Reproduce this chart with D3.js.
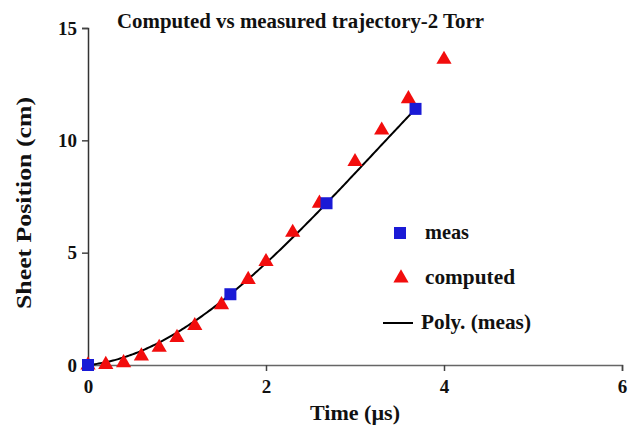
<!DOCTYPE html>
<html>
<head>
<meta charset="utf-8">
<script src="https://cdn.jsdelivr.net/npm/d3@7"></script>
<style>
  body { margin: 0; background: #fff; }
  text { font-family: "Liberation Serif", "Times New Roman", serif; font-weight: bold; fill: #111; }
</style>
</head>
<body>
<div id="chart"></div>
<script>
// data
var measTime = [0, 1.6, 2.68, 3.68];
var measPos = [0, 3.15, 7.2, 11.4];
var compTime = [0, 0.2, 0.4, 0.6, 0.8, 1.0, 1.2, 1.5, 1.8, 2.0, 2.3, 2.6, 3.0, 3.3, 3.6, 4.0];
var compPos = [0, 0.02, 0.1, 0.4, 0.78, 1.22, 1.75, 2.68, 3.8, 4.6, 5.9, 7.2, 9.05, 10.45, 11.85, 13.6];
var xTicks = [0, 2, 4, 6];
var yTicks = [0, 5, 10, 15];

var svgWidth = 630;
var svgHeight = 427;

var svg = d3.select("#chart")
    .append("svg")
    .attr("width", svgWidth)
    .attr("height", svgHeight);

var xscale = d3.scaleLinear().domain([0, 6]).range([88, 622]);
var yscale = d3.scaleLinear().domain([0, 15]).range([365, 28]);

// axes
var xAxis = svg.append("g")
    .attr("transform", "translate(0,365)")
    .call(d3.axisBottom(xscale).tickValues(xTicks).tickSize(6).tickPadding(9).tickFormat(d3.format("d")));
xAxis.select(".domain").attr("stroke", "#666").attr("stroke-width", 1.5);
xAxis.selectAll(".tick line").attr("stroke", "#444").attr("stroke-width", 1.5);
xAxis.selectAll(".tick text").style("font-size", "19px").attr("font-family", null);

var yAxis = svg.append("g")
    .attr("transform", "translate(88,0)")
    .call(d3.axisLeft(yscale).tickValues(yTicks).tickSize(6).tickPadding(5).tickFormat(d3.format("d")));
yAxis.select(".domain").attr("stroke", "#333").attr("stroke-width", 1.5);
yAxis.selectAll(".tick line").attr("stroke", "#444").attr("stroke-width", 1.5);
yAxis.selectAll(".tick text").style("font-size", "19px").attr("font-family", null);

// polynomial trendline through the measured points (least squares)
function polyFit(xs, ys, order) {
    var n = order + 1;
    var A = [];
    for (var i = 0; i < n; i++) {
        A.push([]);
        for (var j = 0; j < n; j++) {
            A[i].push(d3.sum(xs, x => Math.pow(x, i + j)));
        }
        A[i].push(d3.sum(xs, (x, k) => Math.pow(x, i) * ys[k]));
    }
    for (var c = 0; c < n; c++) {
        for (var r = c + 1; r < n; r++) {
            var f = A[r][c] / A[c][c];
            for (var k = c; k <= n; k++) A[r][k] -= f * A[c][k];
        }
    }
    var coef = new Array(n).fill(0);
    for (var r = n - 1; r >= 0; r--) {
        var s = A[r][n];
        for (var k = r + 1; k < n; k++) s -= A[r][k] * coef[k];
        coef[r] = s / A[r][r];
    }
    return coef;
}
var coef = polyFit(measTime, measPos, 3);
var poly = t => coef[0] + coef[1] * t + coef[2] * t * t + coef[3] * t * t * t;
var fitPts = d3.range(0, 3.681, 0.02).map(t => [t, poly(t)]);

svg.append("path")
    .datum(fitPts)
    .attr("fill", "none")
    .attr("stroke", "#000")
    .attr("stroke-width", 2)
    .attr("d", d3.line().x(d => xscale(d[0])).y(d => yscale(d[1])));

// computed triangles
var tri = d3.symbol().type(d3.symbolTriangle).size(100);
svg.selectAll(".comp")
    .data(compTime)
    .enter()
    .append("path")
    .attr("class", "comp")
    .attr("d", tri)
    .attr("transform", (d, i) => `translate(${xscale(d)},${yscale(compPos[i])})`)
    .attr("fill", "#f20d0d");

// measured squares
svg.selectAll(".meas")
    .data(measTime)
    .enter()
    .append("rect")
    .attr("class", "meas")
    .attr("x", d => xscale(d) - 6)
    .attr("y", (d, i) => yscale(measPos[i]) - 6)
    .attr("width", 12)
    .attr("height", 12)
    .attr("fill", "#1a1ad6");

// legend
svg.append("rect").attr("x", 394).attr("y", 227).attr("width", 12).attr("height", 12).attr("fill", "#1a1ad6");
svg.append("text").attr("x", 425).attr("y", 239).style("font-size", "21px")
    .attr("textLength", 44).attr("lengthAdjust", "spacingAndGlyphs").text("meas");
svg.append("path").attr("d", tri).attr("transform", "translate(401,278)").attr("fill", "#f20d0d");
svg.append("text").attr("x", 425).attr("y", 284).style("font-size", "21px")
    .attr("textLength", 90).attr("lengthAdjust", "spacingAndGlyphs").text("computed");
svg.append("line").attr("x1", 383).attr("x2", 413).attr("y1", 323).attr("y2", 323).attr("stroke", "#000").attr("stroke-width", 2);
svg.append("text").attr("x", 421).attr("y", 329).style("font-size", "21px")
    .attr("textLength", 110).attr("lengthAdjust", "spacingAndGlyphs").text("Poly. (meas)");

// titles
svg.append("text")
    .attr("x", 117)
    .attr("y", 28)
    .style("font-size", "20px")
    .attr("textLength", 367)
    .attr("lengthAdjust", "spacingAndGlyphs")
    .text("Computed vs measured trajectory-2 Torr");

svg.append("text")
    .attr("transform", "translate(31,309) rotate(-90)")
    .style("font-size", "21px")
    .attr("textLength", 212)
    .attr("lengthAdjust", "spacingAndGlyphs")
    .text("Sheet Position (cm)");

svg.append("text")
    .attr("x", 310)
    .attr("y", 420)
    .style("font-size", "22px")
    .attr("textLength", 90)
    .attr("lengthAdjust", "spacingAndGlyphs")
    .text("Time (µs)");
</script>
</body>
</html>
